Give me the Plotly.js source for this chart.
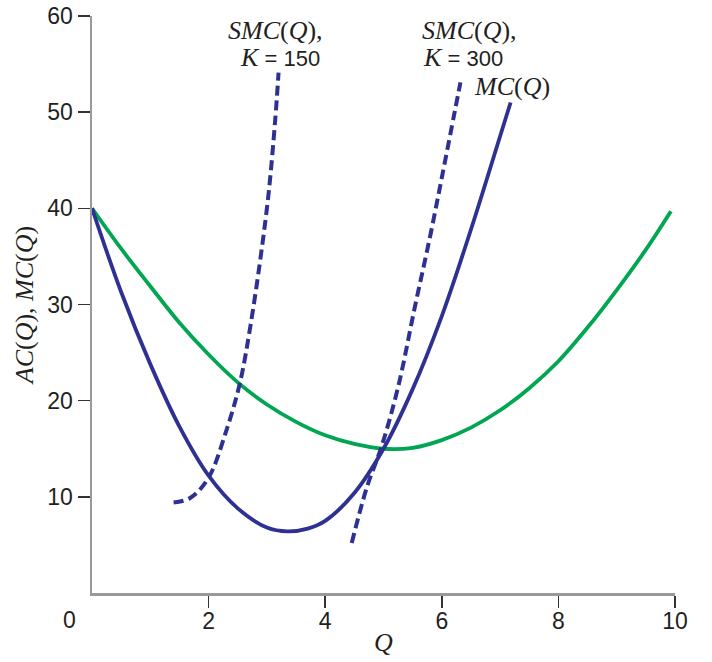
<!DOCTYPE html>
<html>
<head>
<meta charset="utf-8">
<script src="https://cdn.plot.ly/plotly-3.0.1.min.js"></script>
<style>html,body{margin:0;padding:0;background:#fff;}#chart{width:712px;height:662px;}</style>
</head>
<body>
<div id="chart"></div>
<script>
// Values
var acQ   = [0.0, 0.5, 1.0, 1.5, 2.0, 2.5, 3.0, 3.5, 4.0, 4.5, 5.0, 5.5, 6.0, 6.5, 7.0, 7.5, 8.0, 8.5, 9.0, 9.5, 9.93];
var acVal = [40.0, 35.8, 31.9, 28.1, 24.8, 21.9, 19.6, 17.8, 16.4, 15.5, 15.0, 15.1, 15.9, 17.2, 19.0, 21.3, 24.1, 27.6, 31.5, 35.7, 39.7];

var mcQ   = [0.0, 0.5, 1.0, 1.5, 2.0, 2.5, 3.0, 3.35, 3.7, 4.0, 4.5, 5.0, 5.5, 6.0, 6.5, 7.0, 7.18];
var mcVal = [40.0, 31.3, 23.8, 17.3, 12.2, 8.8, 6.8, 6.4, 6.7, 7.5, 10.4, 15.0, 21.2, 28.8, 37.8, 47.5, 51.0];

var smc150Q   = [1.40, 1.69, 2.00, 2.31, 2.54, 2.71, 2.885, 3.03, 3.14, 3.20];
var smc150Val = [9.4, 9.9, 12.0, 17.0, 21.9, 27.5, 34.6, 41.6, 49.0, 54.1];

var smc300Q   = [4.455, 4.71, 4.97, 5.25, 5.54, 5.80, 6.02, 6.22, 6.32];
var smc300Val = [5.2, 10.9, 15.3, 21.4, 29.8, 37.1, 43.8, 50.0, 53.1];

var xTicks = [2, 4, 6, 8, 10];
var yTicks = [10, 20, 30, 40, 50, 60];

var navy = '#2e3192';
var green = '#00a651';
var serif = 'Liberation Serif, Times New Roman, serif';
var sans = 'Liberation Sans, Arial, sans-serif';
var ink = '#231f20';

var traces = [
  {x: acQ, y: acVal, mode: 'lines', line: {color: green, width: 3.8, shape: 'spline', smoothing: 1}, hoverinfo: 'skip'},
  {x: mcQ, y: mcVal, mode: 'lines', line: {color: navy, width: 3.8, shape: 'spline', smoothing: 1}, hoverinfo: 'skip'},
  {x: smc150Q, y: smc150Val, mode: 'lines', line: {color: navy, width: 4, dash: '10px,5px', shape: 'spline', smoothing: 1}, hoverinfo: 'skip'},
  {x: smc300Q, y: smc300Val, mode: 'lines', line: {color: navy, width: 4, dash: '10px,5px', shape: 'spline', smoothing: 1}, hoverinfo: 'skip'}
];

function sansSpan(t){ return '<span style="font-family:' + "'Liberation Sans'" + ';font-size:22px;font-style:normal">' + t + '</span>'; }

var annFont = {family: serif, size: 26, color: ink};
var annotations = [
  {x: 3.14, y: 58.5, text: '<i>SMC</i>(<i>Q</i>),'},
  {x: 3.23, y: 55.7, text: '<i>K</i>' + sansSpan(' = 150')},
  {x: 6.48, y: 58.5, text: '<i>SMC</i>(<i>Q</i>),'},
  {x: 6.36, y: 55.7, text: '<i>K</i>' + sansSpan(' = 300')},
  {x: 7.21, y: 52.7, text: '<i>MC</i>(<i>Q</i>)'},
  {x: 10.02, y: 41.6, text: '<i>AC</i>(<i>Q</i>)'}
].map(function(a){
  return Object.assign({xref: 'x', yref: 'y', showarrow: false, font: annFont, xanchor: 'center', yanchor: 'middle'}, a);
});
annotations.push({xref: 'paper', yref: 'paper', x: -0.0385, y: -0.046, text: '0', showarrow: false,
  font: {family: sans, size: 23, color: ink}, xanchor: 'center', yanchor: 'middle'});

var layout = {
  width: 712, height: 662,
  margin: {l: 91.5, r: 36.5, t: 16, b: 68.5},
  paper_bgcolor: '#fff', plot_bgcolor: '#fff',
  showlegend: false,
  xaxis: {
    range: [0, 10], tickvals: xTicks, ticktext: xTicks.map(String),
    showgrid: false, zeroline: false, showline: true, linecolor: '#999999', linewidth: 2.5,
    ticks: 'outside', ticklen: 12, tickwidth: 1.5, tickcolor: '#333333',
    tickfont: {family: sans, size: 23, color: ink}, ticklabelstandoff: -6,
    title: {text: '<i>Q</i>', font: {family: serif, size: 26, color: ink}, standoff: 0},
    fixedrange: true
  },
  yaxis: {
    range: [0, 60], tickvals: yTicks, ticktext: yTicks.map(String),
    showgrid: false, zeroline: false, showline: true, linecolor: '#999999', linewidth: 2.5,
    ticks: 'outside', ticklen: 12, tickwidth: 1.5, tickcolor: '#333333',
    tickfont: {family: sans, size: 23, color: ink},
    title: {text: '<i>AC</i>(<i>Q</i>), <i>MC</i>(<i>Q</i>)', font: {family: serif, size: 26, color: ink}, standoff: 6},
    fixedrange: true
  },
  annotations: annotations
};

Plotly.newPlot('chart', traces, layout, {staticPlot: true, displayModeBar: false});
</script>
</body>
</html>
